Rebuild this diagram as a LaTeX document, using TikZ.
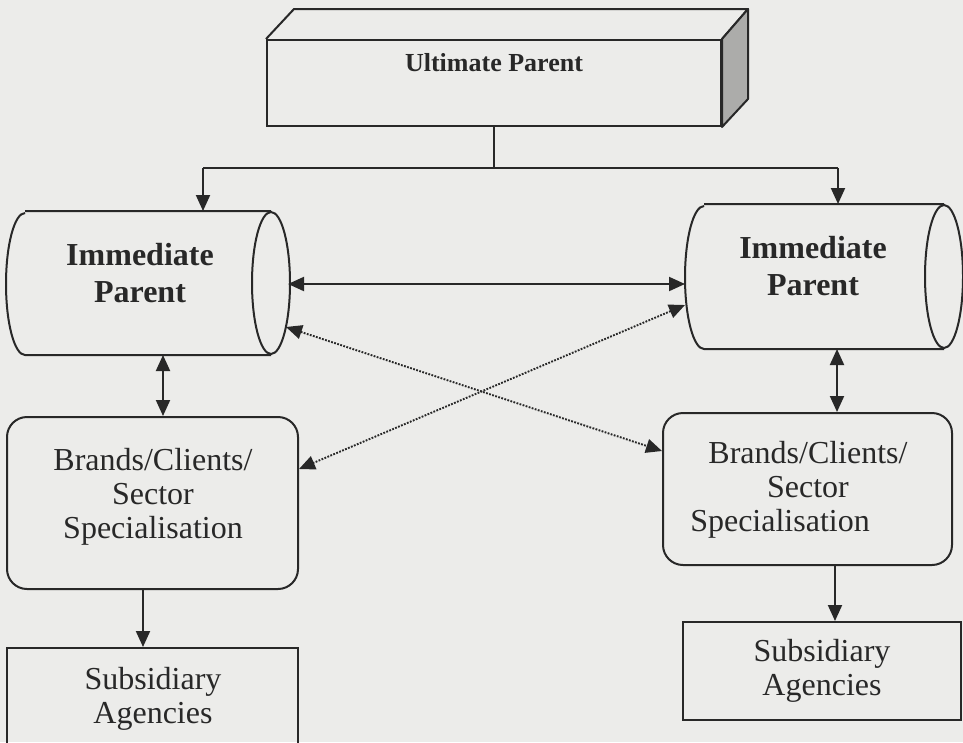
\documentclass[tikz,border=0pt]{standalone}
\usepackage{fontspec}
\setmainfont{Liberation Serif}
\usetikzlibrary{arrows.meta,calc}
\definecolor{paper}{RGB}{236,236,234}
\definecolor{ink}{RGB}{40,40,40}
\definecolor{sideface}{RGB}{172,172,170}
\begin{document}
\begin{tikzpicture}[x=1pt,y=-1pt,
  line width=2pt, draw=ink, text=ink,
  tip/.tip={Triangle[length=16pt,width=14pt]},
  onearrow/.style={-tip},
  twoarrow/.style={tip-tip},
  dotline/.style={line width=1.9pt, dash pattern=on 1.8pt off 1.4pt},
  body/.style={rectangle, draw=none, inner sep=0pt},
  boldlbl/.style={align=center, font=\fontsize{32}{37}\selectfont\bfseries},
  plainlbl/.style={align=center, font=\fontsize{32}{34}\selectfont},
  roundbox/.style={rectangle, rounded corners=20pt, draw, inner sep=0pt},
  squarebox/.style={rectangle, draw, inner sep=0pt}
]
% page
\fill[paper] (0,0) rectangle (963,742);
\clip (0,0) rectangle (963,742);

% ---- Ultimate Parent: a 3-D bar ----
\node[squarebox, minimum width=454pt, minimum height=86pt] (up) at (494,83) {};
\node[font=\fontsize{26}{30}\selectfont\bfseries] (up-t) at (494,63) {Ultimate Parent};
\draw[line join=round] (up.north west) -- ++(28,-30) -- ($(up.north east)+(26,-30)$) -- (up.north east);
\filldraw[fill=sideface, line join=round] (up.north east) -- ++(26,-30) -- ($(up.south east)+(26,-28)$) -- (up.south east) -- cycle;

% ---- Immediate Parent cylinders ----
\node[body, minimum width=282pt, minimum height=142pt] (ipl) at (148,283) {};
\draw ($(ipl.north west)+(19,0)$) -- ($(ipl.north east)+(-19,0)$)
      ($(ipl.south east)+(-19,0)$) -- ($(ipl.south west)+(19,0)$)
      arc[start angle=270, end angle=90, x radius=19pt, y radius=71pt];
\draw ($(ipl.east)+(-19,0)$) ellipse[x radius=19pt, y radius=71pt];
\node[boldlbl] (ipl-t) at (140,273) {Immediate\\Parent};

\node[body, minimum width=276pt, minimum height=143pt] (ipr) at (824,276.5) {};
\draw ($(ipr.north west)+(19,0)$) -- ($(ipr.north east)+(-19,0)$)
      ($(ipr.south east)+(-19,0)$) -- ($(ipr.south west)+(19,0)$)
      arc[start angle=270, end angle=90, x radius=19pt, y radius=71.5pt];
\draw ($(ipr.east)+(-19,0)$) ellipse[x radius=19pt, y radius=71.5pt];
\node[boldlbl] (ipr-t) at (813,266) {Immediate\\Parent};

% ---- Brands/Clients/Sector boxes ----
\node[roundbox, minimum width=291pt, minimum height=172pt] (bcl) at (152.5,503) {};
\node[plainlbl] (bcl-t) at (153,497) {Brands/Clients/\\Sector\\Specialisation};

\node[roundbox, minimum width=289pt, minimum height=152pt] (bcr) at (807.5,489) {};
\node[plainlbl] (bcr-t) at (808,490) {Brands/Clients/\\Sector\\Specialisation\hspace*{56pt}};

% ---- Subsidiary Agencies boxes ----
\node[squarebox, minimum width=291pt, minimum height=150pt, anchor=north] (sal) at (152.5,647) {};
\node[plainlbl] (sal-t) at (153,699) {Subsidiary\\Agencies};

\node[squarebox, minimum width=278pt, minimum height=98pt, plainlbl] (sar) at (822,671) {Subsidiary\\Agencies};

% ---- connectors ----
\coordinate (jn) at (up.south |- 0,168);
\coordinate (jl) at (203,168);
\coordinate (jr) at (838,168);
\draw (up.south) -- (jn);
\draw (jl) -- (jr);
\draw[onearrow] (jl) -- (jl |- ipl.north);
\draw[onearrow] (jr) -- (jr |- ipr.north);

\draw[twoarrow] ($(ipl.east)+(-2,1)$) -- ($(ipr.west)+(0,7.5)$);

\coordinate (dl) at ($(ipl.east)+(-4,44)$);
\coordinate (dr) at ($(ipr.west)+(0,28.5)$);
\draw[twoarrow, dotline] (dl) -- ($(bcr.north west)+(0,39)$);
\draw[twoarrow, dotline] (dr) -- ($(bcl.north east)+(0,53)$);

\coordinate (vl) at ($(ipl.south)+(15,0)$);
\draw[twoarrow] (vl) -- (vl |- bcl.north);
\coordinate (vr) at ($(ipr.south)+(13,0)$);
\draw[twoarrow] (vr) -- (vr |- bcr.north);

\coordinate (sl) at ($(bcl.south)+(-9.5,0)$);
\draw[onearrow] (sl) -- (sl |- sal.north);
\coordinate (sr) at ($(bcr.south)+(27.5,0)$);
\draw[onearrow] (sr) -- (sr |- sar.north);
\end{tikzpicture}
\end{document}
